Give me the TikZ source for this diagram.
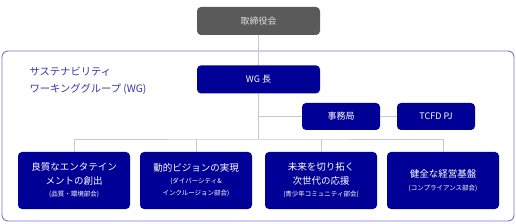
\documentclass[tikz,border=0pt]{standalone}
\usepackage{fontspec}
\setmainfont{Noto Sans CJK JP}
\usetikzlibrary{positioning}
\definecolor{navy}{HTML}{000096}
\definecolor{boardgray}{HTML}{5A5A5A}
\definecolor{framebl}{HTML}{7575D6}
\definecolor{labelbl}{HTML}{3535AA}
\definecolor{linegray}{HTML}{C8C8C8}
\newcommand{\subtxt}[1]{{\fontsize{6.5}{11}\selectfont #1}}

\begin{document}
\begin{tikzpicture}[
    x=1pt, y=-1pt,
    orgbox/.style={rectangle, rounded corners=4pt, inner sep=0pt, text centered, align=center, text=white},
    board/.style={orgbox, fill=boardgray, minimum width=123pt, minimum height=28pt, font=\fontsize{9}{11}\selectfont, text=white!88!black},
    wgbox/.style={orgbox, fill=navy, minimum width=123pt, minimum height=28pt, font=\fontsize{9}{11}\selectfont},
    subbox/.style={orgbox, fill=navy, minimum width=78pt, minimum height=27pt, font=\fontsize{9}{11}\selectfont},
    unitbox/.style={orgbox, fill=navy, minimum width=112pt, minimum height=57pt, font=\fontsize{9.5}{15}\selectfont},
    conn/.style={draw=linegray, line width=0.9pt}
  ]
    \useasboundingbox (0,0) rectangle (516,224);

    % --- WG frame ---
    \draw[framebl, line width=0.9pt, rounded corners=6pt] (2,51) rectangle (514,221);
    \node[anchor=west, align=left, text=labelbl, font=\fontsize{10.3}{17}\selectfont] (wglabel) at (26,81) {サステナビリティ\\ワーキンググループ (WG)};

    % --- Top ---
    \node[board] (board) at (258.5,21) {取締役会};
    \node[wgbox, below=30pt of board] (wg) {WG 長};

    \node[subbox] (jimu) at (341,116.5) {事務局};
    \node[subbox] (tcfd) at (436,116.5) {TCFD PJ};

    % --- Units ---
    \node[unitbox] (u1) at (74,180.5) {良質なエンタテイン\\[-1pt]メントの創出\\[-3pt]\subtxt{(品質・環境部会)}};
    \node[unitbox] (u2) at (196,180.5) {動的ビジョンの実現\\[-3pt]\subtxt{(ダイバーシティ\&}\\[-3pt]\subtxt{インクルージョン部会)}};
    \node[unitbox] (u3) at (321,180.5) {未来を切り拓く\\[-1pt]次世代の応援\\[-3pt]\subtxt{(青少年コミュニティ部会)}};
    \node[unitbox] (u4) at (443,180.5) {健全な経営基盤\\[-2pt]\subtxt{(コンプライアンス部会)}};

    % --- Lines ---
    \coordinate (branch) at (258.5,139);
    \draw[conn] (board) -- (wg);
    \draw[conn] (wg) -- (branch);
    \draw[conn] (wg.south |- jimu.west) -- (jimu.west);
    \draw[conn] (jimu.east) -- (tcfd.west);
    \draw[conn] (u1.north) |- (branch) -| (u4.north);
    \draw[conn] (u2.north) -- (u2.north |- branch);
    \draw[conn] (u3.north) -- (u3.north |- branch);

  \end{tikzpicture}
\end{document}
